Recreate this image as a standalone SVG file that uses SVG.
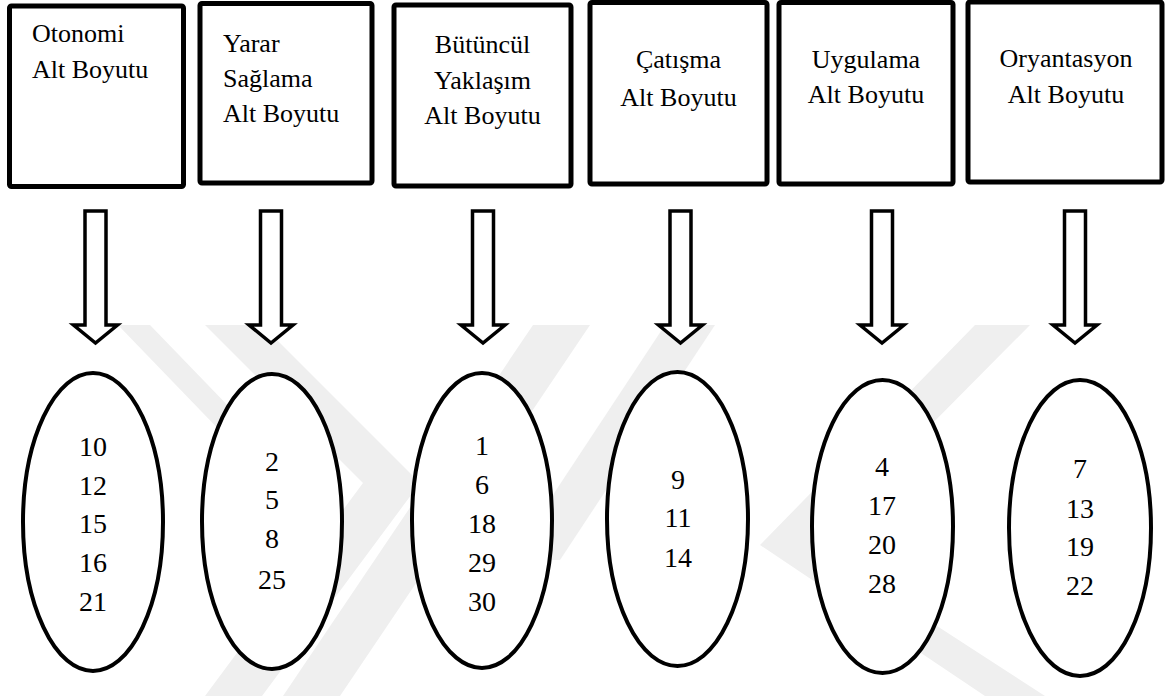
<svg xmlns="http://www.w3.org/2000/svg" width="1165" height="696" viewBox="0 0 1165 696">
<style>
.box{fill:#fff;stroke:#000;stroke-width:5;stroke-linejoin:round}
.oval{fill:#fff;stroke:#000;stroke-width:4}
.arr{fill:#fff;stroke:#000;stroke-width:3.5;stroke-linejoin:miter}
.wm{fill:#efefef}
</style>
<rect width="1165" height="696" fill="#fff"/>
<g id="watermark">
<polygon class="wm" points="205,325 262,325 420,483 262,696 205,696 363,483"/>
<polygon class="wm" points="118,325 150,325 290,470 258,470"/>
<polygon class="wm" points="533,325 590,325 340,696 283,696"/>
<polygon class="wm" points="665,325 715,325 560,560 510,560"/>
<polygon class="wm" points="975,325 1030,325 812,545 1045,696 985,696 760,545"/>
</g>
<g id="connectors">
<path class="arr" d="M85,211 H106 V325 H117.5 L95.5,343 L73.5,325 H85 Z"/>
<path class="arr" d="M260.5,211 H281.5 V325 H293 L271,343 L249,325 H260.5 Z"/>
<path class="arr" d="M472.5,211 H493.5 V325 H505 L483,343 L461,325 H472.5 Z"/>
<path class="arr" d="M670,211 H691 V325 H702.5 L680.5,343 L658.5,325 H670 Z"/>
<path class="arr" d="M871.5,211 H892.5 V325 H904 L882,343 L860,325 H871.5 Z"/>
<path class="arr" d="M1064.5,211 H1085.5 V325 H1097 L1075,343 L1053,325 H1064.5 Z"/>
</g>
<g font-family="'Liberation Serif', 'Times New Roman', 'DejaVu Serif', serif" font-size="26" fill="#000">
<g id="box-otonomi">
<rect class="box" x="9.5" y="6" width="174" height="180.5" rx="2"/>
<text x="32" y="42">Otonomi</text>
<text x="32" y="78">Alt Boyutu</text>
</g>
<g id="box-yarar">
<rect class="box" x="200" y="3.5" width="172" height="179.5" rx="2"/>
<text x="223" y="52">Yarar</text>
<text x="223" y="87">Sağlama</text>
<text x="223" y="122">Alt Boyutu</text>
</g>
<g id="box-butuncul" text-anchor="middle">
<rect class="box" x="394" y="5" width="177" height="181" rx="2"/>
<text x="482.5" y="53">Bütüncül</text>
<text x="482.5" y="89">Yaklaşım</text>
<text x="482.5" y="124">Alt Boyutu</text>
</g>
<g id="box-catisma" text-anchor="middle">
<rect class="box" x="590" y="2.5" width="177" height="181.5" rx="2"/>
<text x="678.5" y="68">Çatışma</text>
<text x="678.5" y="106">Alt Boyutu</text>
</g>
<g id="box-uygulama" text-anchor="middle">
<rect class="box" x="779" y="2.5" width="174" height="181.5" rx="2"/>
<text x="866" y="68">Uygulama</text>
<text x="866" y="103">Alt Boyutu</text>
</g>
<g id="box-oryantasyon" text-anchor="middle">
<rect class="box" x="968" y="2" width="194" height="180" rx="2"/>
<text x="1066" y="67">Oryantasyon</text>
<text x="1066" y="103">Alt Boyutu</text>
</g>
</g>
<g font-family="'Liberation Serif', 'Times New Roman', 'DejaVu Serif', serif" font-size="28" fill="#000" text-anchor="middle">
<g id="oval-otonomi">
<ellipse class="oval" cx="93" cy="522" rx="70" ry="149"/>
<text x="93" y="456">10</text>
<text x="93" y="495">12</text>
<text x="93" y="533">15</text>
<text x="93" y="572">16</text>
<text x="93" y="611">21</text>
</g>
<g id="oval-yarar">
<ellipse class="oval" cx="272" cy="521.5" rx="70" ry="147.5"/>
<text x="272" y="471">2</text>
<text x="272" y="509">5</text>
<text x="272" y="548">8</text>
<text x="272" y="589">25</text>
</g>
<g id="oval-butuncul">
<ellipse class="oval" cx="482" cy="520.5" rx="70" ry="147.5"/>
<text x="482" y="455">1</text>
<text x="482" y="494">6</text>
<text x="482" y="533">18</text>
<text x="482" y="572">29</text>
<text x="482" y="611">30</text>
</g>
<g id="oval-catisma">
<ellipse class="oval" cx="677.5" cy="519" rx="70.5" ry="147"/>
<text x="678" y="489">9</text>
<text x="678" y="527">11</text>
<text x="678" y="567">14</text>
</g>
<g id="oval-uygulama">
<ellipse class="oval" cx="882.5" cy="526.5" rx="70.5" ry="146.5"/>
<text x="882" y="476">4</text>
<text x="882" y="515">17</text>
<text x="882" y="554">20</text>
<text x="882" y="593">28</text>
</g>
<g id="oval-oryantasyon">
<ellipse class="oval" cx="1080" cy="528" rx="71" ry="148"/>
<text x="1080" y="478">7</text>
<text x="1080" y="518">13</text>
<text x="1080" y="556">19</text>
<text x="1080" y="595">22</text>
</g>
</g>
</svg>
